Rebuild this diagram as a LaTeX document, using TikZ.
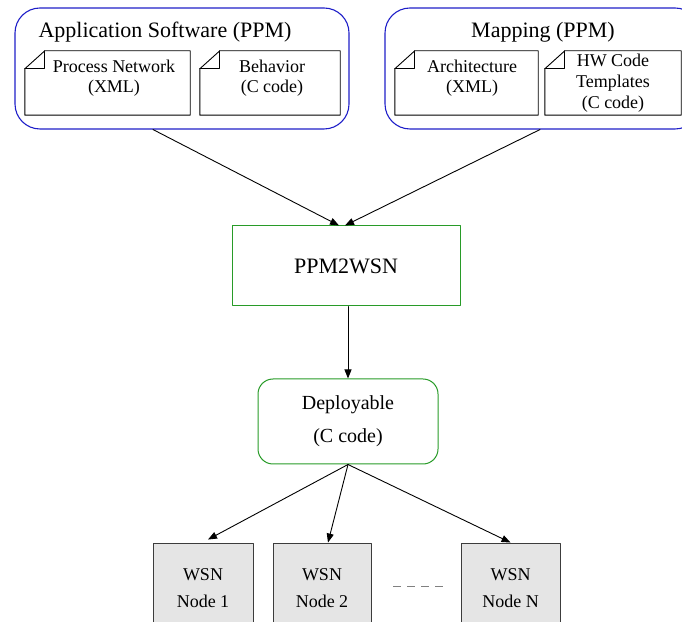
\documentclass[tikz,border=0pt]{standalone}
\usepackage{fontspec}
\setmainfont{Liberation Serif}
\usetikzlibrary{arrows.meta}

\definecolor{ppmblue}{RGB}{30,30,200}
\definecolor{toolgreen}{RGB}{40,155,40}
\definecolor{wsnborder}{RGB}{60,60,60}

\begin{document}
\begin{tikzpicture}[
    x=1pt, y=1pt,
    line cap=round,
    line join=round,
    container/.style={draw=ppmblue,line width=1.1pt,rounded corners=25pt,inner sep=0pt},
    title/.style={font=\fontsize{22}{26}\selectfont},
    docnode/.style={inner sep=0pt},
    doctext/.style={align=center,font=\fontsize{18}{20}\selectfont},
    docline/.style={line width=0.9pt},
    tool/.style={draw=toolgreen,line width=1pt,inner sep=0pt,font=\fontsize{22}{26}\selectfont},
    deploy/.style={draw=toolgreen,line width=1pt,rounded corners=15pt,inner sep=0pt,
                   align=center,font=\fontsize{20}{33}\selectfont},
    wsn/.style={draw=wsnborder,fill=black!10,line width=0.9pt,inner sep=0pt,
                minimum height=91pt,align=center,font=\fontsize{18}{27}\selectfont},
    arrow/.style={line width=0.9pt,-{Triangle[length=9pt,width=7pt]}},
    etc/.style={draw=gray,line width=1pt,dash pattern=on 8pt off 6pt,line cap=butt}
]

\useasboundingbox (0,0) rectangle (682,621);
\clip (0,0) rectangle (682,621);

% -------------------------------------------------
% Eingaben: Anwendung und Abbildung
% -------------------------------------------------

\node[container,minimum width=334pt,minimum height=121pt] (app) at (182,552.5) {};
\node[title] (apptitle) at (165,589) {Application Software (PPM)};

\node[container,minimum width=315pt,minimum height=121pt] (map) at (542.5,552.5) {};
\node[title] (maptitle) at (543,589) {Mapping (PPM)};

% -------------------------------------------------
% Dokumente (Ecke oben links umgeknickt)
% -------------------------------------------------

\node[docnode,minimum width=165pt,minimum height=64pt,
      label={[doctext,xshift=6.5pt,yshift=5pt]center:Process Network\\(XML)}] (pn) at (107.5,538) {};
\node[docnode,minimum width=140pt,minimum height=64pt,
      label={[doctext,xshift=2pt,yshift=5pt]center:Behavior\\(C code)}] (beh) at (270,538) {};
\node[docnode,minimum width=143pt,minimum height=64pt,
      label={[doctext,xshift=5.5pt,yshift=5pt]center:Architecture\\(XML)}] (arch) at (466.5,538) {};
\node[docnode,minimum width=136pt,minimum height=64pt,
      label={[doctext,font=\fontsize{18}{21}\selectfont]center:HW Code\\Templates\\(C code)}] (hw) at (613,538) {};

\foreach \d in {pn,beh,arch,hw}{
  \draw[docline] ([yshift=-18pt]\d.north west) -- ([xshift=20pt]\d.north west)
                 -- (\d.north east) -- (\d.south east) -- (\d.south west) -- cycle;
  \draw[docline] ([yshift=-18pt]\d.north west) -- ([xshift=20pt,yshift=-18pt]\d.north west)
                 -- ([xshift=20pt]\d.north west);
}

% -------------------------------------------------
% Werkzeug und Ergebnis
% -------------------------------------------------

\node[tool,minimum width=228pt,minimum height=80pt] (ppm) at (346,355) {PPM2WSN};
\node[deploy,minimum width=180pt,minimum height=85pt] (dep) at (348,199.5) {Deployable\\(C code)};

% -------------------------------------------------
% Sensorknoten
% -------------------------------------------------

\node[wsn,minimum width=100pt] (n1) at (203,32.5) {WSN\\Node 1};
\node[wsn,minimum width=98pt]  (n2) at (322,32.5) {WSN\\Node 2};
\node[wsn,minimum width=99pt]  (nN) at (510.5,32.5) {WSN\\Node N};

\draw[etc] (393,35) -- (443,35);

% -------------------------------------------------
% Pfeile
% -------------------------------------------------

\draw[arrow] ([xshift=-29pt]app.south) -- ([xshift=-7pt]ppm.north);
\draw[arrow] ([xshift=-2.5pt]map.south) -- ([xshift=-1pt]ppm.north);
\draw[arrow] (ppm.south -| dep.north) -- (dep.north);

\draw[arrow] (dep.south) -- ([xshift=5pt,yshift=3pt]n1.north);
\draw[arrow] (dep.south) -- ([xshift=6pt]n2.north);
\draw[arrow] (dep.south) -- (nN.north);
\end{tikzpicture}
\end{document}
